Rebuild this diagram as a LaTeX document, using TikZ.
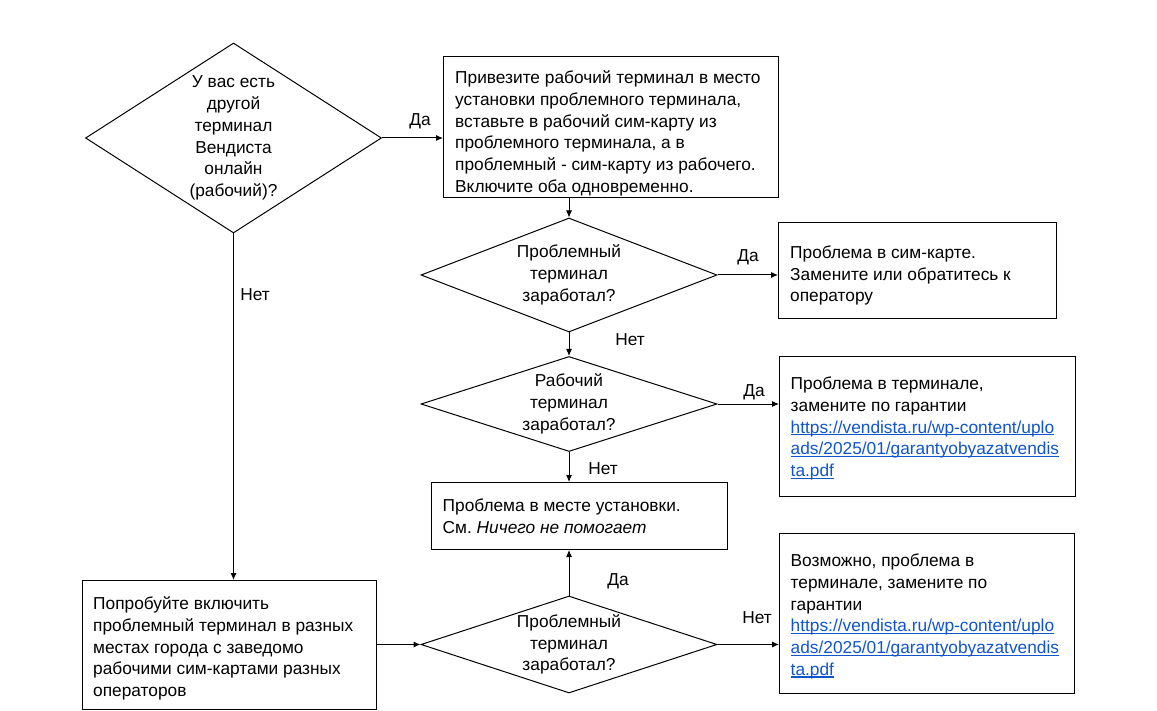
\documentclass[tikz,border=0pt]{standalone}
\usepackage{fontspec}
\setmainfont{Liberation Sans}
\usetikzlibrary{shapes.geometric,arrows.meta}
\definecolor{linkblue}{HTML}{1155CC}
\newcommand{\lnk}[1]{{\color{linkblue}\setbox0\hbox{#1}\rlap{\rule[-2.2pt]{\wd0}{1.1pt}}\box0}}
\frenchspacing
\begin{document}
\begin{tikzpicture}[x=1pt,y=-1pt,
  every node/.style={font=\fontsize{17.3}{21.7}\selectfont, text=black},
  dia/.style={diamond, draw=black, line width=1pt, inner sep=0pt},
  boxnode/.style={rectangle, draw=black, line width=1pt, inner sep=0pt, anchor=north west},
  txt/.style={inner sep=0pt, align=left, anchor=west},
  ctxt/.style={inner sep=0pt, align=center},
  lbl/.style={inner sep=0pt},
  arr/.style={draw=black, line width=1pt, -{Latex[length=7pt,width=6pt]}}]
\useasboundingbox (0,0) rectangle (1157,711);
\fill[white] (0,0) rectangle (1157,711);

% diamonds
\node[dia, minimum width=296pt, minimum height=190pt] (d1) at (233.5,138) {};
\node[ctxt] (d1t) at (d1.center) {У вас есть\\другой\\терминал\\Вендиста\\онлайн\\(рабочий)?};
\node[dia, minimum width=296pt, minimum height=114pt] (d2) at (569,275) {};
\node[ctxt] (d2t) at (d2.center) {Проблемный\\терминал\\заработал?};
\node[dia, minimum width=296pt, minimum height=95pt] (d3) at (569,404) {};
\node[ctxt] (d3t) at (d3.center) {Рабочий\\терминал\\заработал?};
\node[dia, minimum width=296pt, minimum height=97pt] (d4) at (569,644.5) {};
\node[ctxt] (d4t) at (d4.center) {Проблемный\\терминал\\заработал?};

% boxes
\node[boxnode, minimum width=335pt, minimum height=141pt] (b1) at (443,56) {};
\node[txt] (b1t) at ([xshift=12pt,yshift=-6.5pt]b1.west) {Привезите рабочий терминал в место\\установки проблемного терминала,\\вставьте в рабочий сим-карту из\\проблемного терминала, а в\\проблемный - сим-карту из рабочего.\\Включите оба одновременно.};

\node[boxnode, minimum width=278pt, minimum height=96pt] (b2) at (778,222) {};
\node[txt] (b2t) at ([xshift=12pt,yshift=-5pt]b2.west) {Проблема в сим-карте.\\Замените или обратитесь к\\оператору};

\node[boxnode, minimum width=296pt, minimum height=67pt] (b3) at (431,482) {};
\node[txt] (b3t) at ([xshift=11.5pt]b3.west) {Проблема в месте установки.\\См.\ \textit{Ничего не помогает}};

\node[boxnode, minimum width=296pt, minimum height=140pt] (b4) at (779,356) {};
\node[txt] (b4t) at ([xshift=11.5pt,yshift=-2pt]b4.west) {Проблема в терминале,\\замените по гарантии\\\lnk{https://vendista.ru/wp-content/uplo}\\\lnk{ads/2025/01/garantyobyazatvendis}\\\lnk{ta.pdf}};

\node[boxnode, minimum width=295pt, minimum height=160pt] (b5) at (779,533) {};
\node[txt] (b5t) at ([xshift=11.5pt,yshift=-3pt]b5.west) {Возможно, проблема в\\терминале, замените по\\гарантии\\\lnk{https://vendista.ru/wp-content/uplo}\\\lnk{ads/2025/01/garantyobyazatvendis}\\\lnk{ta.pdf}};

\node[boxnode, minimum width=294pt, minimum height=129pt] (b6) at (82,580) {};
\node[txt] (b6t) at ([xshift=11pt,yshift=-3.5pt]b6.west) {Попробуйте включить\\проблемный терминал в разных\\местах города с заведомо\\рабочими сим-картами разных\\операторов};

% connectors
\draw[arr] (d1.east) -- (d1.east -| b1.west);
\draw[arr] (b1.south -| d2.north) -- (d2.north);
\draw[arr] (d2.east) -- (d2.east -| b2.west);
\draw[arr] (d2.south) -- (d3.north);
\draw[arr] (d3.east) -- (d3.east -| b4.west);
\draw[arr] (d3.south) -- (d3.south |- b3.north);
\draw[arr] (d4.north) -- (d4.north |- b3.south);
\draw[arr] (d4.east) -- (d4.east -| b5.west);
\draw[arr] (d1.south) -- (d1.south |- b6.north);
\draw[arr] (b6.east |- d4.west) -- (d4.west);

% labels
\node[lbl] (l1) at (420,121) {Да};
\node[lbl] (l2) at (748,257) {Да};
\node[lbl] (l3) at (630,340) {Нет};
\node[lbl] (l4) at (754,392) {Да};
\node[lbl] (l5) at (603,469) {Нет};
\node[lbl] (l6) at (618,581) {Да};
\node[lbl] (l7) at (757,618) {Нет};
\node[lbl] (l8) at (255,295) {Нет};
\end{tikzpicture}
\end{document}
